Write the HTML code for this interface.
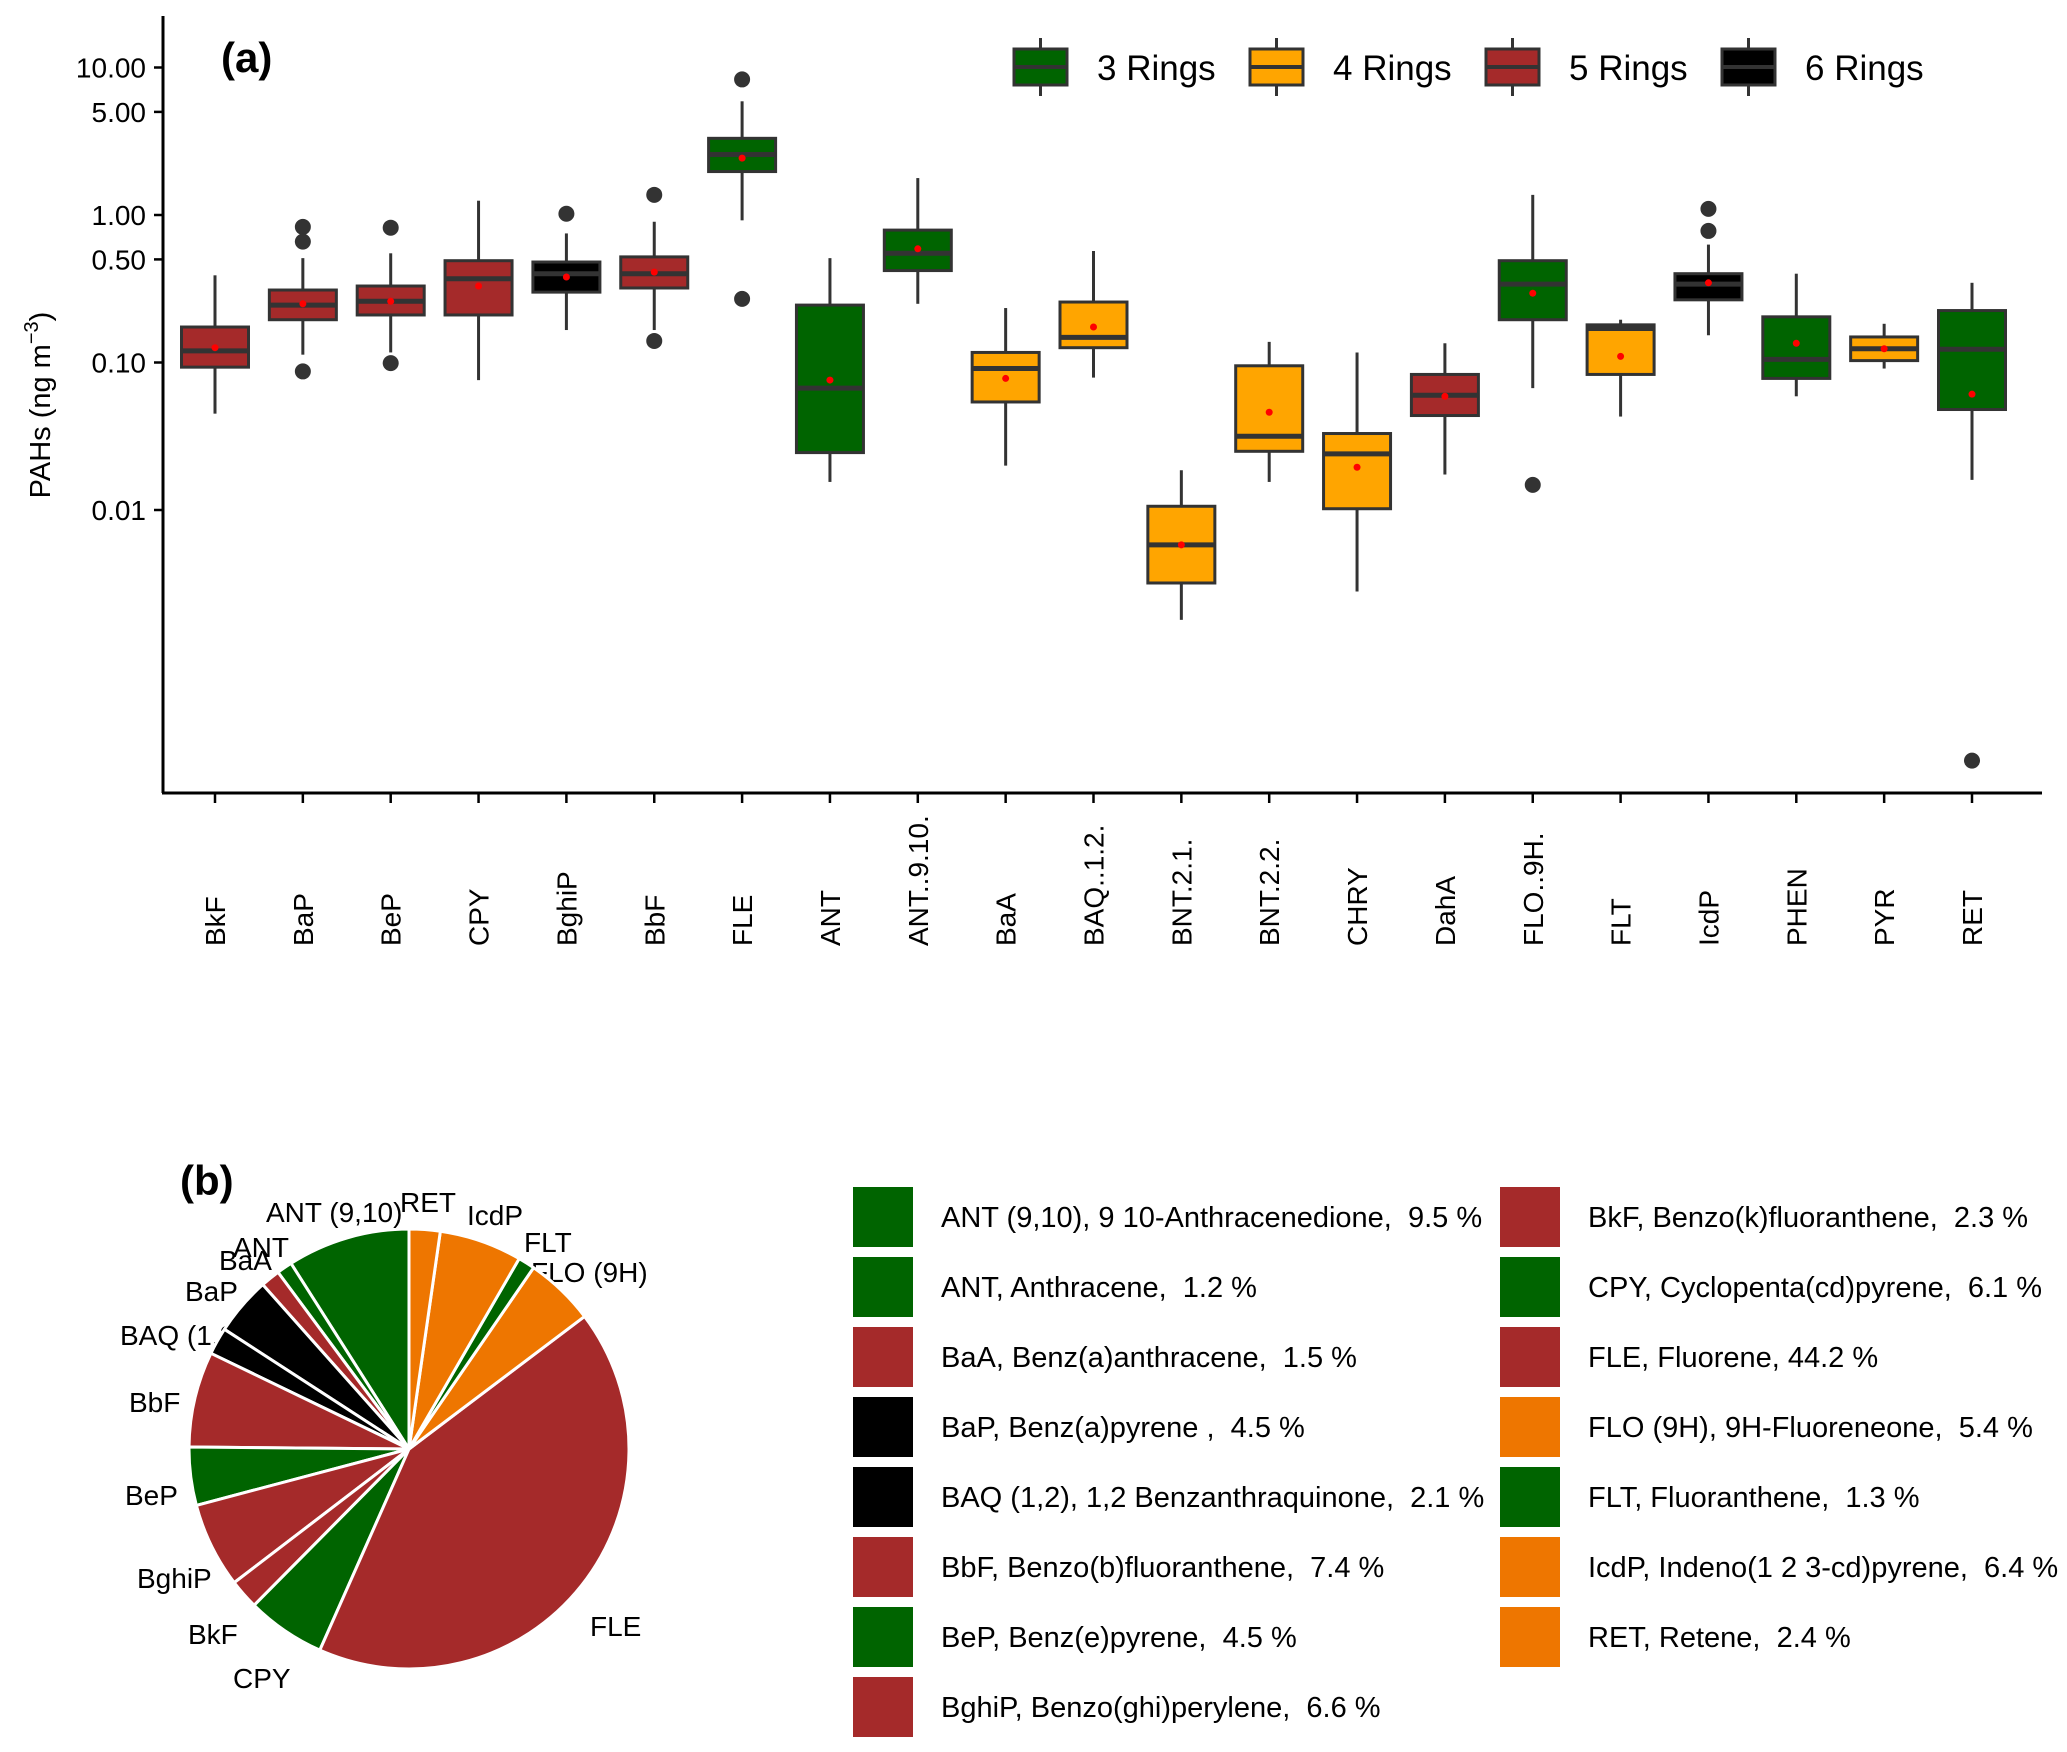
<!DOCTYPE html>
<html><head><meta charset="utf-8"><style>
html,body{margin:0;padding:0;background:#fff;}
svg{display:block;font-family:"Liberation Sans",Arial,sans-serif;}
text{white-space:pre;}
</style></head><body>
<svg id="chart" width="2067" height="1752" viewBox="0 0 2067 1752" xmlns="http://www.w3.org/2000/svg">
<rect width="2067" height="1752" fill="#fff"/>
<g id="panelA"></g>
<text x="221" y="72" font-size="42" font-weight="bold">(a)</text>
<text transform="translate(50,405) rotate(-90)" text-anchor="middle" font-size="29">PAHs (ng m<tspan dy="-12" font-size="20">−3</tspan><tspan dy="12">)</tspan></text>
<g id="legendA"></g>
<g id="pieLabels" font-size="28">
<text x="266" y="1222">ANT (9,10)</text>
<text x="233" y="1257">ANT</text>
<text x="219" y="1270">BaA</text>
<text x="185" y="1301">BaP</text>
<text x="120" y="1345">BAQ (1,2)</text>
<text x="129" y="1412">BbF</text>
<text x="125" y="1505">BeP</text>
<text x="137" y="1588">BghiP</text>
<text x="188" y="1644">BkF</text>
<text x="233" y="1688">CPY</text>
<text x="590" y="1636">FLE</text>
<text x="531" y="1282">FLO (9H)</text>
<text x="524" y="1252">FLT</text>
<text x="467" y="1225">IcdP</text>
<text x="400" y="1212">RET</text>
</g>
<g id="pie"></g>
<text x="180" y="1195" font-size="42" font-weight="bold">(b)</text>
<g id="legendB" font-size="28"></g>
</svg>
<script>
const categories = ["BkF","BaP","BeP","CPY","BghiP","BbF","FLE","ANT","ANT..9.10.","BaA","BAQ..1.2.","BNT.2.1.","BNT.2.2.","CHRY","DahA","FLO..9H.","FLT","IcdP","PHEN","PYR","RET"];
const rings = [5,5,5,5,6,5,3,3,3,4,4,4,4,4,5,3,4,6,3,4,3];
const whiskerLow = [0.045,0.113,0.117,0.076,0.166,0.166,0.92,0.0155,0.25,0.02,0.079,0.0018,0.0155,0.0028,0.0174,0.067,0.043,0.153,0.059,0.091,0.016];
const q1 = [0.093,0.195,0.21,0.21,0.30,0.32,1.97,0.0245,0.42,0.054,0.126,0.0032,0.025,0.0102,0.0437,0.195,0.083,0.266,0.078,0.103,0.048];
const medians = [0.12,0.245,0.26,0.37,0.40,0.40,2.57,0.067,0.55,0.091,0.148,0.0058,0.0316,0.024,0.060,0.34,0.17,0.34,0.105,0.124,0.123];
const q3 = [0.174,0.31,0.33,0.49,0.48,0.52,3.31,0.245,0.79,0.117,0.257,0.0106,0.095,0.033,0.083,0.49,0.18,0.40,0.204,0.149,0.225];
const whiskerHigh = [0.39,0.51,0.55,1.25,0.75,0.90,5.9,0.51,1.78,0.234,0.57,0.0186,0.138,0.117,0.135,1.37,0.195,0.63,0.40,0.183,0.347];
const means = [0.126,0.25,0.26,0.33,0.38,0.41,2.43,0.076,0.59,0.078,0.174,0.0058,0.046,0.0195,0.059,0.295,0.11,0.347,0.135,0.124,0.061];
const outliers = [[],[0.83,0.66,0.087],[0.82,0.099],[],[1.02],[1.37,0.14],[8.3,0.27],[],[],[],[],[],[],[],[],[0.0148],[],[1.1,0.78],[],[],[0.0002]];
const yTicks = [10,5,1,0.5,0.1,0.01];
const yTickLabels = ["10.00","5.00","1.00","0.50","0.10","0.01"];
const ringNames = ["3 Rings","4 Rings","5 Rings","6 Rings"];
const pieNames = ["ANT (9,10), 9 10-Anthracenedione,  9.5 %","ANT, Anthracene,  1.2 %","BaA, Benz(a)anthracene,  1.5 %","BaP, Benz(a)pyrene ,  4.5 %","BAQ (1,2), 1,2 Benzanthraquinone,  2.1 %","BbF, Benzo(b)fluoranthene,  7.4 %","BeP, Benz(e)pyrene,  4.5 %","BghiP, Benzo(ghi)perylene,  6.6 %","BkF, Benzo(k)fluoranthene,  2.3 %","CPY, Cyclopenta(cd)pyrene,  6.1 %","FLE, Fluorene, 44.2 %","FLO (9H), 9H-Fluoreneone,  5.4 %","FLT, Fluoranthene,  1.3 %","IcdP, Indeno(1 2 3-cd)pyrene,  6.4 %","RET, Retene,  2.4 %"];
const piePercents = [9.5,1.2,1.5,4.5,2.1,7.4,4.5,6.6,2.3,6.1,44.2,5.4,1.3,6.4,2.4];
const pieGroups = ["g","g","r","k","k","r","g","r","r","g","r","o","g","o","o"];

const NS = "http://www.w3.org/2000/svg";
function mk(tag, attrs, parent){ const e=document.createElementNS(NS,tag); for(const k in attrs) e.setAttribute(k,attrs[k]); parent.appendChild(e); return e; }
const ringFill = {3:"#006400",4:"#FFA500",5:"#A52A2A",6:"#000000"};
const pieFill = {g:"#006400",r:"#A52A2A",k:"#000000",o:"#EE7600"};
const X0=215, DX=87.85, AX=163, AY=793, XR=2042, YT=16;
const yScale = v => 215 - 147.5*Math.log10(v);
const xScale = i => X0 + DX*i;
const A = document.getElementById("panelA");

let e = mk("line",{x1:AX,y1:YT,x2:AX,y2:AY,stroke:"#000","stroke-width":3},A);
 
e = mk("line",{x1:AX-1,y1:AY,x2:XR,y2:AY,stroke:"#000","stroke-width":3},A);
 
yTicks.forEach((v,i)=>{
  const y=yScale(v);
  let t=mk("line",{x1:AX-9,y1:y,x2:AX,y2:y,stroke:"#000","stroke-width":2.5},A);
   
  let l=mk("text",{x:AX-17,y:y+10,"text-anchor":"end","font-size":28},A);
   
  l.textContent=yTickLabels[i];
});
categories.forEach((c,i)=>{
  const x=xScale(i), f=ringFill[rings[i]], hw=33.5;
  let t=mk("line",{x1:x,y1:AY,x2:x,y2:AY+10,stroke:"#000","stroke-width":2.5},A);
   
  let l=mk("text",{transform:`translate(${x+10},946) rotate(-90)`,"font-size":28},A);
   
  l.textContent=c;
  const g=mk("g",{},A);
  
  
  mk("line",{x1:x,y1:yScale(whiskerHigh[i]),x2:x,y2:yScale(q3[i]),stroke:"#333","stroke-width":3},g);
  mk("line",{x1:x,y1:yScale(q1[i]),x2:x,y2:yScale(whiskerLow[i]),stroke:"#333","stroke-width":3},g);
  mk("rect",{x:x-hw,y:yScale(q3[i]),width:2*hw,height:yScale(q1[i])-yScale(q3[i]),fill:f,stroke:"#333","stroke-width":3},g);
  mk("line",{x1:x-hw,y1:yScale(medians[i]),x2:x+hw,y2:yScale(medians[i]),stroke:"#333","stroke-width":5},g);
  outliers[i].forEach(o=>{
    let d=mk("circle",{cx:x,cy:yScale(o),r:8,fill:"#333"},A);
     
  });
  let m=mk("circle",{cx:x,cy:yScale(means[i]),r:3.5,fill:"#FF0000"},A);
   
});

const LA=document.getElementById("legendA");
const keyX=[1014,1250,1486,1722];
ringNames.forEach((n,i)=>{
  const g=mk("g",{},LA);
   
  const cx=keyX[i]+26.5;
  mk("line",{x1:cx,y1:38,x2:cx,y2:96,stroke:"#333","stroke-width":3},g);
  mk("rect",{x:keyX[i],y:49,width:53,height:36,fill:ringFill[i+3],stroke:"#333","stroke-width":3},g);
  mk("line",{x1:keyX[i],y1:67,x2:keyX[i]+53,y2:67,stroke:"#333","stroke-width":4},g);
  const t=mk("text",{x:keyX[i]+83,y:80,"font-size":35},g);
  t.textContent=n;
});

const P=document.getElementById("pie");
const CX=409, CY=1449, R=220;
const total=piePercents.reduce((a,b)=>a+b,0);
let ang=0;
piePercents.forEach((p,i)=>{
  const a0=ang, a1=ang+p/total*2*Math.PI; ang=a1;
  const x0=CX-R*Math.sin(a0), y0=CY-R*Math.cos(a0), x1=CX-R*Math.sin(a1), y1=CY-R*Math.cos(a1);
  const large=(a1-a0)>Math.PI?1:0;
  const s=mk("path",{d:`M${CX},${CY} L${x0},${y0} A${R},${R} 0 ${large} 0 ${x1},${y1} Z`,fill:pieFill[pieGroups[i]],stroke:"#fff","stroke-width":3,"stroke-linejoin":"round"},P);
   
});

const LB=document.getElementById("legendB");
pieNames.forEach((n,i)=>{
  const col=i<8?0:1, row=i<8?i:i-8;
  const sx=col?1500:853, tx=col?1588:941, y=1187+70*row;
  const g=mk("g",{},LB);
   
  mk("rect",{x:sx,y:y,width:60,height:60,fill:pieFill[pieGroups[i]]},g);
  const t=mk("text",{x:tx,y:y+40,"font-size":29},g);
  t.textContent=n;
});
</script>
</body></html>
